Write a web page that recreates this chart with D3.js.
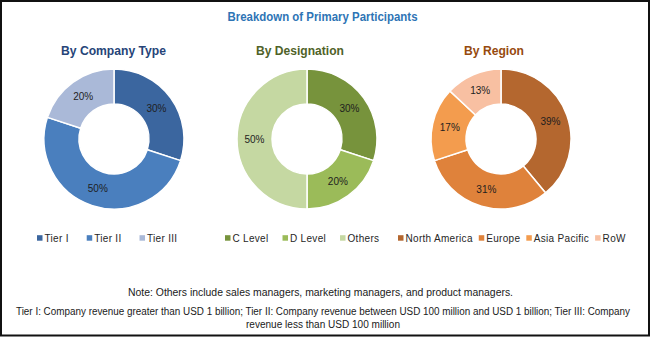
<!DOCTYPE html>
<html>
<head>
<meta charset="utf-8">
<script src="https://cdn.jsdelivr.net/npm/d3@7/dist/d3.min.js"></script>
<style>
  html, body { margin: 0; padding: 0; background: #fff; }
  svg { display: block; }
  text { font-family: "Liberation Sans", Arial, sans-serif; }
</style>
</head>
<body>
<svg id="chart" width="650" height="337"></svg>
<script>
// Survey breakdown: three donuts
const companyTypes = ["Tier I", "Tier II", "Tier III"];
const companyShares = [30, 50, 20];

const designations = ["C Level", "D Level", "Others"];
const designationShares = [30, 20, 50];

const regions = ["North America", "Europe", "Asia Pacific", "RoW"];
const regionShares = [39, 31, 17, 13];

const chartTitle = "Breakdown of Primary Participants";
const panelTitles = ["By Company Type", "By Designation", "By Region"];
const noteLines = [
  "Note: Others include sales managers, marketing managers, and product managers.",
  "Tier I: Company revenue greater than USD 1 billion; Tier II: Company revenue between USD 100 million and USD 1 billion; Tier III: Company",
  "revenue less than USD 100 million"
];

// Palettes per panel
const companyColors = ["#3b669f", "#4a7fbe", "#aab9d8"];
const designationColors = ["#77933c", "#9bbb59", "#c5d8a2"];
const regionColors = ["#b4672f", "#df823b", "#f39c4e", "#f8c0a2"];

const svg = d3.select("#chart");
const W = 650, H = 337;

svg.append("rect").attr("x", 0).attr("y", 0).attr("width", W).attr("height", H).attr("fill", "#fff");

// Main title
svg.append("text")
  .attr("x", 322.5).attr("y", 21)
  .attr("text-anchor", "middle")
  .attr("font-weight", "bold").attr("font-size", 12)
  .attr("fill", "#2e74b5")
  .attr("textLength", 190).attr("lengthAdjust", "spacingAndGlyphs")
  .text(chartTitle);

const panels = [
  { title: panelTitles[0], titleColor: "#264478", titleX: 113.5, titleW: 105,
    cx: 114, names: companyTypes, values: companyShares, colors: companyColors,
    legendX: 37, legendGap: 18 },
  { title: panelTitles[1], titleColor: "#4f6228", titleX: 300, titleW: 88,
    cx: 307, names: designations, values: designationShares, colors: designationColors,
    legendX: 225, legendGap: 14 },
  { title: panelTitles[2], titleColor: "#964a0e", titleX: 494, titleW: 60,
    cx: 501, names: regions, values: regionShares, colors: regionColors,
    legendX: 398, legendGap: 6 }
];

const cy = 139, rOuter = 70, rInner = 35;
const pie = d3.pie().sort(null).value(d => d);
const arc = d3.arc().innerRadius(rInner).outerRadius(rOuter);
const labelArc = d3.arc().innerRadius((rInner + rOuter) / 2).outerRadius((rInner + rOuter) / 2);

panels.forEach(p => {
  svg.append("text")
    .attr("x", p.titleX).attr("y", 55)
    .attr("text-anchor", "middle")
    .attr("font-weight", "bold").attr("font-size", 13.5)
    .attr("fill", p.titleColor)
    .attr("textLength", p.titleW).attr("lengthAdjust", "spacingAndGlyphs")
    .text(p.title);

  const color = d3.scaleOrdinal().domain(p.names).range(p.colors);
  const arcs = pie(p.values).map((a, i) => Object.assign(a, { name: p.names[i] }));

  const g = svg.append("g").attr("transform", `translate(${p.cx},${cy})`);
  g.selectAll("path.slice").data(arcs).join("path")
    .attr("class", "slice")
    .attr("d", arc)
    .attr("fill", d => color(d.name))
    .attr("stroke", "#fff").attr("stroke-width", 1.5);

  g.selectAll("text.pct").data(arcs).join("text")
    .attr("class", "pct")
    .attr("transform", d => `translate(${labelArc.centroid(d)})`)
    .attr("text-anchor", "middle").attr("dy", "0.35em")
    .attr("font-size", 10).attr("fill", "#1e1e1e")
    .text(d => d.data + "%");

  // Legend flows left to right from its starting x
  const lg = svg.append("g").attr("transform", `translate(0,238)`);
  let x = p.legendX;
  p.names.forEach(name => {
    lg.append("rect").attr("x", x).attr("y", -2.8).attr("width", 5.5).attr("height", 5.5)
      .attr("fill", color(name));
    const t = lg.append("text").attr("x", x + 7.5).attr("y", 3.6)
      .attr("font-size", 10).attr("letter-spacing", 0.3).attr("fill", "#262626")
      .text(name);
    x += 7.5 + t.node().getComputedTextLength() + p.legendGap;
  });
});

// Footnotes
const notes = [
  { text: noteLines[0], x: 320.5, y: 296, w: 385 },
  { text: noteLines[1], x: 323, y: 315, w: 614 },
  { text: noteLines[2], x: 323, y: 328, w: 154 }
];
notes.forEach(n => {
  svg.append("text")
    .attr("x", n.x).attr("y", n.y).attr("text-anchor", "middle")
    .attr("font-size", 10).attr("fill", "#1a1a1a")
    .attr("textLength", n.w).attr("lengthAdjust", "spacingAndGlyphs")
    .text(n.text);
});

// Frame
svg.append("rect").attr("x", 1).attr("y", 1).attr("width", W - 2).attr("height", H - 2.5)
  .attr("fill", "none").attr("stroke", "#111").attr("stroke-width", 2);
</script>
</body>
</html>
